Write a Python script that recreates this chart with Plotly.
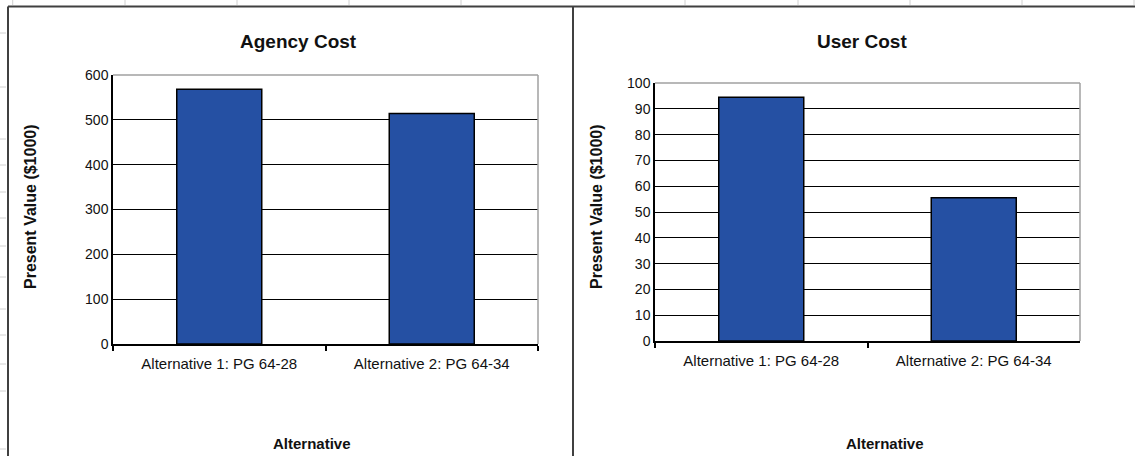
import plotly.graph_objects as go

categories = ["Alternative 1: PG 64-28", "Alternative 2: PG 64-34"]
agency_cost = [568, 514]
user_cost = [94.5, 55.5]
agency_ticks = [0, 100, 200, 300, 400, 500, 600]
user_ticks = [0, 10, 20, 30, 40, 50, 60, 70, 80, 90, 100]

W, H = 1135, 456
BAR = "#2550A3"
FONT = "Liberation Sans, Arial, sans-serif"

def px(x):
    return x / W

def py(y):
    return 1 - y / H

fig = go.Figure()
fig.add_trace(go.Bar(x=categories, y=agency_cost, width=0.4, marker=dict(color=BAR, line=dict(color="black", width=1.5)),
                     xaxis="x", yaxis="y", showlegend=False, hoverinfo="skip"))
fig.add_trace(go.Bar(x=categories, y=user_cost, width=0.4, marker=dict(color=BAR, line=dict(color="black", width=1.5)),
                     xaxis="x2", yaxis="y2", showlegend=False, hoverinfo="skip"))

L = dict(x0=113, x1=538, y0=75, y1=344)
R = dict(x0=655, x1=1080, y0=83, y1=341)

common_x = dict(showline=True, linecolor="black", linewidth=1.5, ticks="outside", tickson="boundaries",
                ticklen=5, tickcolor="black", tickwidth=1.5, showgrid=False, automargin=False,
                ticklabelstandoff=5, tickfont=dict(family=FONT, size=15, color="#111"))
common_y = dict(showline=True, linecolor="black", linewidth=1.5, showgrid=True, gridcolor="black", gridwidth=1,
                zeroline=False, ticks="", automargin=False, tickfont=dict(family=FONT, size=14, color="#111"))

fig.update_layout(
    width=W, height=H, margin=dict(l=0, r=0, t=0, b=0, pad=0, autoexpand=False),
    paper_bgcolor="white", plot_bgcolor="white", bargap=0.6,
    xaxis=dict(domain=[px(L["x0"]), px(L["x1"])], anchor="y", **common_x),
    yaxis=dict(domain=[py(L["y1"]), py(L["y0"])], anchor="x", range=[0, 600], tickvals=agency_ticks, **common_y),
    xaxis2=dict(domain=[px(R["x0"]), px(R["x1"])], anchor="y2", **common_x),
    yaxis2=dict(domain=[py(R["y1"]), py(R["y0"])], anchor="x2", range=[0, 100], tickvals=user_ticks, **common_y),
)

shapes = []
for P in (L, R):
    shapes.append(dict(type="line", xref="paper", yref="paper", x0=px(P["x0"]), x1=px(P["x1"]),
                       y0=py(P["y0"]), y1=py(P["y0"]), line=dict(color="#a0a0a0", width=1.5), layer="above"))
    shapes.append(dict(type="line", xref="paper", yref="paper", x0=px(P["x1"]), x1=px(P["x1"]),
                       y0=py(P["y0"]), y1=py(P["y1"]), line=dict(color="#a0a0a0", width=1.5), layer="above"))
frame = "#404040"
shapes.append(dict(type="line", xref="paper", yref="paper", x0=px(8), x1=1, y0=py(6.5), y1=py(6.5), line=dict(color=frame, width=2)))
shapes.append(dict(type="line", xref="paper", yref="paper", x0=px(8), x1=px(8), y0=py(6.5), y1=0, line=dict(color=frame, width=2)))
shapes.append(dict(type="line", xref="paper", yref="paper", x0=px(573), x1=px(573), y0=py(6.5), y1=0, line=dict(color=frame, width=2)))
for x in [12.7, 125, 237, 349, 461, 685, 798, 910, 1022, 1134]:
    shapes.append(dict(type="line", xref="paper", yref="paper", x0=px(x), x1=px(x), y0=1, y1=py(5),
                       line=dict(color="#d0d0d0", width=1)))
for y in [33, 87, 139, 165, 192, 218, 246, 277, 309, 335, 364, 391, 449]:
    shapes.append(dict(type="line", xref="paper", yref="paper", x0=0, x1=px(6), y0=py(y), y1=py(y),
                       line=dict(color="#d0d0d0", width=1)))
fig.update_layout(shapes=shapes)

ann = []
def text(x, y, s, size, bold=False, angle=0):
    ann.append(dict(x=px(x), y=py(y), xref="paper", yref="paper", text=f"<b>{s}</b>" if bold else s,
                    showarrow=False, textangle=angle, xanchor="center", yanchor="middle",
                    font=dict(family=FONT, size=size, color="#111")))

text(298, 42, "Agency Cost", 19, bold=True)
text(862, 42, "User Cost", 19, bold=True)
text(30, 207, "Present Value ($1000)", 16, bold=True, angle=-90)
text(596, 207, "Present Value ($1000)", 16, bold=True, angle=-90)
text(312, 443, "Alternative", 15, bold=True)
text(885, 443, "Alternative", 15, bold=True)
fig.update_layout(annotations=ann)

fig.write_html("out.html", config={"displayModeBar": False},
               post_script="document.body.style.margin='0px';document.body.style.overflow='hidden';")
